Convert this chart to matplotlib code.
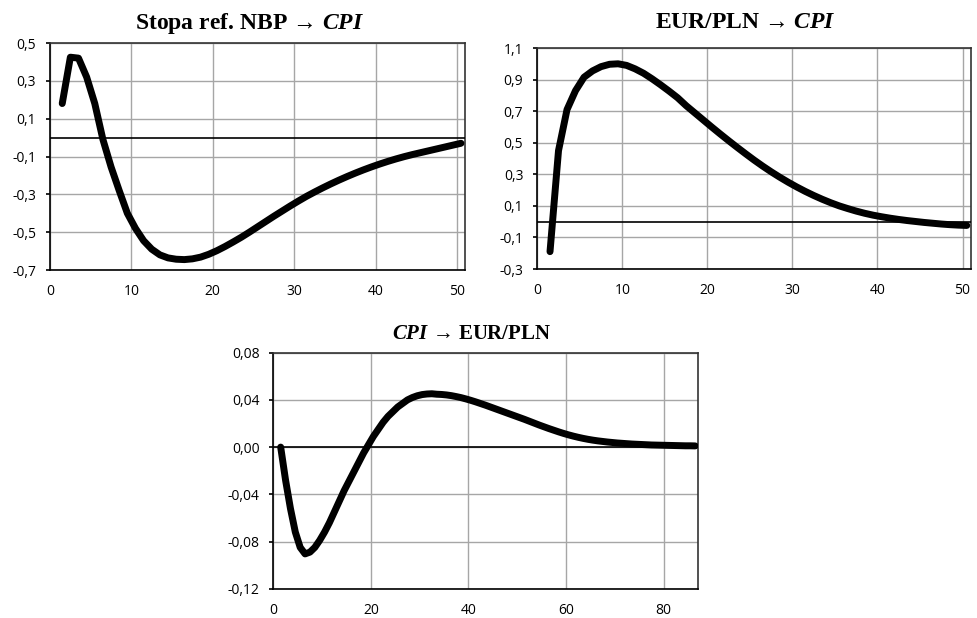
import matplotlib
matplotlib.use("Agg")
import matplotlib.pyplot as plt
from matplotlib.ticker import FuncFormatter
import numpy as np

plt.rcParams['mathtext.fontset'] = 'custom'
plt.rcParams['mathtext.rm'] = 'Liberation Serif:bold'
plt.rcParams['mathtext.it'] = 'Liberation Serif:italic:bold'

# impulse responses, horizons 1..N (Excel category axis puts point h at h+0.5)
h_ref = np.arange(1, 51)
irf_ref_cpi = [0.18, 0.425, 0.42, 0.32, 0.18, -0.01, -0.155, -0.28, -0.40, -0.48,
               -0.545, -0.59, -0.62, -0.636, -0.643, -0.645, -0.641, -0.632, -0.617, -0.598,
               -0.576, -0.552, -0.527, -0.500, -0.472, -0.444, -0.416, -0.389, -0.362, -0.336,
               -0.311, -0.288, -0.266, -0.245, -0.225, -0.206, -0.188, -0.171, -0.155, -0.140,
               -0.126, -0.113, -0.101, -0.090, -0.080, -0.070, -0.060, -0.050, -0.040, -0.030]

h_fx = np.arange(1, 51)
irf_fx_cpi = [-0.19, 0.45, 0.71, 0.83, 0.915, 0.955, 0.982, 0.997, 1.0, 0.99,
              0.968, 0.94, 0.905, 0.867, 0.827, 0.785, 0.735, 0.69, 0.645, 0.60,
              0.556, 0.513, 0.471, 0.43, 0.39, 0.352, 0.316, 0.282, 0.25, 0.22,
              0.192, 0.166, 0.142, 0.12, 0.10, 0.083, 0.067, 0.053, 0.041, 0.031,
              0.022, 0.014, 0.007, 0.001, -0.005, -0.010, -0.015, -0.019, -0.022, -0.024]

h_cpi = np.arange(1, 87)
irf_cpi_fx = [0.0, -0.028, -0.052, -0.072, -0.085, -0.0905, -0.089, -0.085, -0.079, -0.072,
              -0.064, -0.055, -0.046, -0.037, -0.029, -0.021, -0.013, -0.005, 0.002, 0.009,
              0.015, 0.021, 0.026, 0.030, 0.034, 0.037, 0.040, 0.042, 0.0435, 0.0445,
              0.045, 0.0452, 0.0448, 0.0446, 0.0442, 0.0436, 0.0428, 0.0419, 0.0408, 0.0396,
              0.0383, 0.0369, 0.0355, 0.034, 0.0325, 0.031, 0.0295, 0.028, 0.0265, 0.025,
              0.0235, 0.0219, 0.0203, 0.0187, 0.0172, 0.0157, 0.0143, 0.0129, 0.0116, 0.0104,
              0.0093, 0.0083, 0.0074, 0.0066, 0.0059, 0.0053, 0.0048, 0.0043, 0.0039, 0.0035,
              0.0032, 0.0029, 0.0026, 0.0024, 0.0022, 0.002, 0.0018, 0.0017, 0.0016, 0.0015,
              0.0014, 0.0013, 0.0012, 0.0011, 0.0011, 0.001]

titles = [r"Stopa ref. NBP → $\mathit{CPI}$", r"EUR/PLN → $\mathit{CPI}$", r"$\mathit{CPI}$ → EUR/PLN"]


def comma_fmt(dec):
    return FuncFormatter(lambda v, p: f"{v:.{dec}f}".replace(".", ","))


def panel(rect, h, y, xlim, xticks, yticks, dec, title, title_xy, tsize):
    ax = fig.add_axes(rect)
    ax.plot(h + 0.5, y, color="black", lw=5, solid_capstyle="round",
            solid_joinstyle="round", zorder=4)
    ax.axhline(0, color="black", lw=1.2, zorder=3)
    ax.set_xlim(*xlim)
    ax.set_ylim(yticks[0], yticks[-1])
    ax.set_xticks(xticks)
    ax.set_yticks(yticks)
    ax.yaxis.set_major_formatter(comma_fmt(dec))
    ax.grid(True, color="#a6a6a6", lw=1.0, zorder=1)
    for s in ax.spines.values():
        s.set_color("#333333")
        s.set_linewidth(1.2)
    ax.spines["left"].set_color("black")
    ax.spines["bottom"].set_color("black")
    ax.tick_params(axis="y", length=3, width=1.2, pad=7, labelsize=10)
    ax.tick_params(axis="x", length=0, pad=10, labelsize=10)
    for lab in ax.get_xticklabels() + ax.get_yticklabels():
        lab.set_fontfamily("Open Sans")
    fig.text(title_xy[0], title_xy[1], title, ha="center", va="baseline",
             fontsize=tsize, fontweight="bold", family=["Liberation Serif", "DejaVu Serif"])
    return ax


fig = plt.figure(figsize=(9.77, 6.18), dpi=100)

panel([0.0512, 0.5631, 0.4248, 0.3673], h_ref, irf_ref_cpi, (0, 51),
      [0, 10, 20, 30, 40, 50], np.round(np.arange(-0.7, 0.51, 0.2), 1), 1,
      titles[0], (250 / 977, 0.9526), 17)
panel([0.5499, 0.5647, 0.4440, 0.3576], h_fx, irf_fx_cpi, (0, 51),
      [0, 10, 20, 30, 40, 50], np.round(np.arange(-0.3, 1.11, 0.2), 1), 1,
      titles[1], (745.5 / 977, 0.9542), 17)
panel([0.2798, 0.0474, 0.4343, 0.3819], h_cpi, irf_cpi_fx, (0, 87),
      [0, 20, 40, 60, 80], np.round(np.arange(-0.12, 0.081, 0.04), 2), 2,
      titles[2], (471.7 / 977, 0.451), 15)

fig.savefig("out.png", dpi=100)
